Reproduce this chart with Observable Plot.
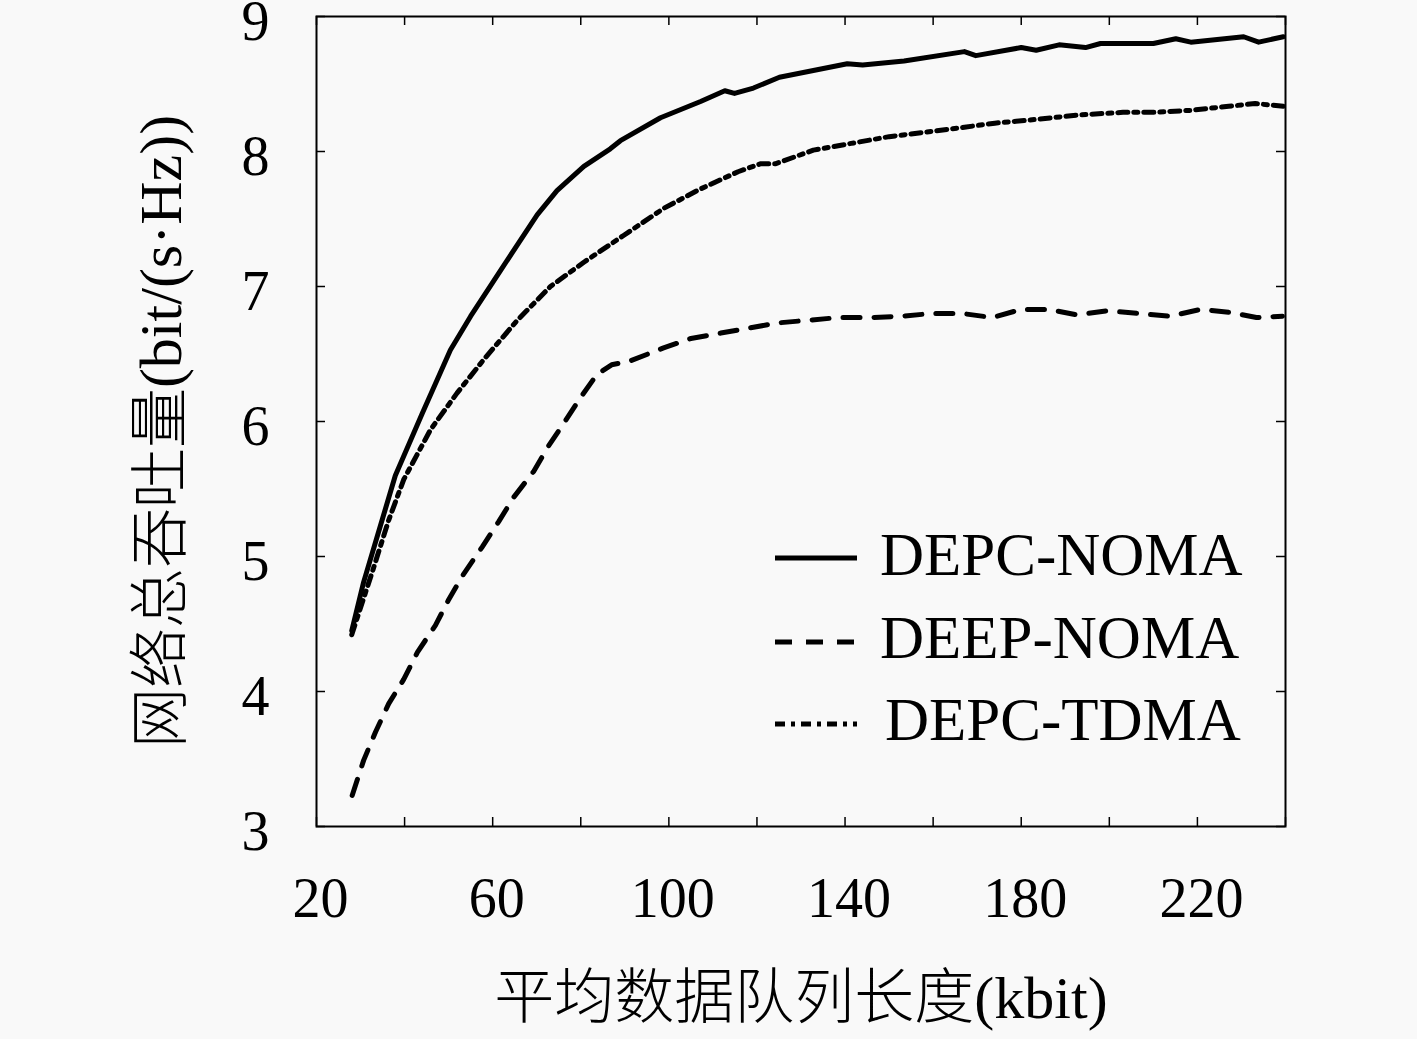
<!DOCTYPE html>
<html><head><meta charset="utf-8">
<script src="https://cdn.jsdelivr.net/npm/d3@7"></script>
<script src="https://cdn.jsdelivr.net/npm/@observablehq/plot@0.6"></script>
<style>
html,body{margin:0;padding:0;background:#f9f9f9;}
#wrap{position:relative;width:1417px;height:1039px;}
#legend{position:absolute;left:0;top:0;}
</style></head><body><div id="wrap"></div>
<script>
// ---- data ----
const seriesNames = ["DEPC-NOMA", "DEEP-NOMA", "DEPC-TDMA"];

const xDepcNoma = [28, 30.7, 33.8, 37.9, 44.0, 50.4, 55.0, 61.8, 70.1, 74.6, 80.7, 86.7, 89.0, 98.1, 107.2, 112.7, 114.9, 119.2, 125.1, 132.8, 140.5, 144.0, 153.4, 167.1, 169.7, 180.0, 183.4, 188.6, 194.6, 198.0, 210.0, 215.1, 218.5, 230.5, 233.9, 239.5];
const yDepcNoma = [4.45, 4.81, 5.15, 5.6, 6.06, 6.53, 6.78, 7.12, 7.53, 7.71, 7.89, 8.02, 8.08, 8.25, 8.37, 8.45, 8.43, 8.47, 8.55, 8.60, 8.65, 8.64, 8.67, 8.74, 8.71, 8.77, 8.75, 8.79, 8.77, 8.80, 8.80, 8.835, 8.81, 8.85, 8.81, 8.85];

const xDeepNoma = [28.1, 30.7, 33.4, 36.4, 39.8, 42.9, 47.0, 50.0, 53.4, 57.6, 61.4, 64.8, 69.3, 72.7, 76.2, 80.0, 83.7, 87.0, 91.3, 98.8, 105.0, 111.8, 117.8, 124.7, 131.6, 138.5, 145.9, 152.8, 159.7, 166.6, 173.5, 179.9, 186.2, 192.6, 199.5, 206.9, 213.8, 220.7, 227.1, 233.4, 239.3];
const yDeepNoma = [3.23, 3.49, 3.70, 3.91, 4.09, 4.29, 4.49, 4.68, 4.87, 5.07, 5.26, 5.44, 5.63, 5.82, 5.99, 6.18, 6.35, 6.42, 6.45, 6.545, 6.615, 6.655, 6.69, 6.73, 6.75, 6.77, 6.77, 6.78, 6.80, 6.80, 6.77, 6.83, 6.83, 6.79, 6.82, 6.80, 6.78, 6.83, 6.81, 6.77, 6.78];

const xDepcTdma = [28, 33.0, 36.4, 39.8, 45.9, 51.9, 58.0, 65.6, 73.1, 80.7, 89.8, 98.9, 107.0, 115.7, 120.9, 124.3, 132.8, 141.4, 150.0, 158.6, 167.1, 174.0, 184.2, 192.8, 203.1, 210.0, 218.5, 227.1, 233.1, 239.5];
const yDepcTdma = [4.42, 4.92, 5.27, 5.57, 5.94, 6.21, 6.46, 6.75, 7.00, 7.18, 7.38, 7.58, 7.72, 7.85, 7.91, 7.91, 8.01, 8.06, 8.11, 8.145, 8.18, 8.21, 8.24, 8.27, 8.29, 8.29, 8.305, 8.335, 8.355, 8.335];

const xTicks = [20, 40, 60, 80, 100, 120, 140, 160, 180, 200, 220, 240];
const xTickLabels = [20, 60, 100, 140, 180, 220];
const yTicks = [3, 4, 5, 6, 7, 8, 9];
const xTitle = "平均数据队列长度(kbit)";
const yTitle = "网络总吞吐量(bit/(s·Hz))";

// ---- build table ----
const seriesX = [xDepcNoma, xDeepNoma, xDepcTdma];
const seriesY = [yDepcNoma, yDeepNoma, yDepcTdma];
const rows = [];
seriesNames.forEach((name, i) => {
  seriesX[i].forEach((x, j) => rows.push({series: name, x, y: seriesY[i][j]}));
});

// ---- layout & style ----
const W = 1417, H = 1039, mL = 316, mR = 132, mT = 16, mB = 213;
const innerH = H - mT - mB, innerW = W - mL - mR;
const tickLen = 9;
const FONT = "'Liberation Serif', 'Noto Sans CJK SC', serif";
const dashes = {"DEPC-NOMA": undefined, "DEEP-NOMA": "17,14", "DEPC-TDMA": "10,6,4,6"};
const lineW = 5;

const plot = Plot.plot({
  width: W, height: H,
  marginLeft: mL, marginRight: mR, marginTop: mT, marginBottom: mB,
  x: {domain: [20, 240]},
  y: {domain: [3, 9]},
  style: {fontFamily: FONT, background: "#f9f9f9", color: "#000", overflow: "visible"},
  marks: [
    ...seriesNames.map(name => Plot.line(rows.filter(r => r.series === name), {
      x: "x", y: "y", stroke: "#000", strokeWidth: lineW,
      strokeDasharray: dashes[name], strokeLinejoin: "round"
    })),
    Plot.frame({stroke: "#000", strokeWidth: 2}),
    Plot.tickX(xTicks, {x: d => d, insetTop: innerH - tickLen, stroke: "#000", strokeWidth: 1.5}),
    Plot.tickX(xTicks, {x: d => d, insetBottom: innerH - tickLen, stroke: "#000", strokeWidth: 1.5}),
    Plot.tickY(yTicks, {y: d => d, insetRight: innerW - tickLen, stroke: "#000", strokeWidth: 1.5}),
    Plot.tickY(yTicks, {y: d => d, insetLeft: innerW - tickLen, stroke: "#000", strokeWidth: 1.5}),
    Plot.axisX({ticks: xTickLabels, tickFormat: d => String(d), tickSize: 0, tickPadding: 51, fontSize: 56, label: null, dx: 4}),
    Plot.axisY({ticks: yTicks, tickFormat: d => String(d), tickSize: 0, tickPadding: 47, fontSize: 56, label: null, dy: 6}),
    Plot.text([xTitle], {frameAnchor: "bottom", dy: 172, fontSize: 60, lineAnchor: "middle", textAnchor: "middle", fontWeight: 300}),
    Plot.text([yTitle], {frameAnchor: "left", dx: -155, dy: 10, rotate: -90, fontSize: 60, lineAnchor: "middle", textAnchor: "middle", fontWeight: 300})
  ]
});
const wrap = document.getElementById("wrap");
wrap.appendChild(plot);

// ---- legend (overlay inside the plot frame) ----
const legendLayout = {x1: 775, x2: 857, lineY: [558, 642, 724], textX: [880, 880, 885], textY: [575, 658, 740]};
const leg = d3.select(wrap).append("svg").attr("id", "legend").attr("width", W).attr("height", H);
seriesNames.forEach((name, i) => {
  leg.append("line")
    .attr("x1", legendLayout.x1).attr("x2", legendLayout.x2)
    .attr("y1", legendLayout.lineY[i]).attr("y2", legendLayout.lineY[i])
    .attr("stroke", "#000").attr("stroke-width", lineW)
    .attr("stroke-dasharray", dashes[name] || null);
  leg.append("text")
    .attr("x", legendLayout.textX[i]).attr("y", legendLayout.textY[i])
    .attr("font-family", FONT).attr("font-size", 61).attr("fill", "#000")
    .text(name);
});
</script></body></html>
